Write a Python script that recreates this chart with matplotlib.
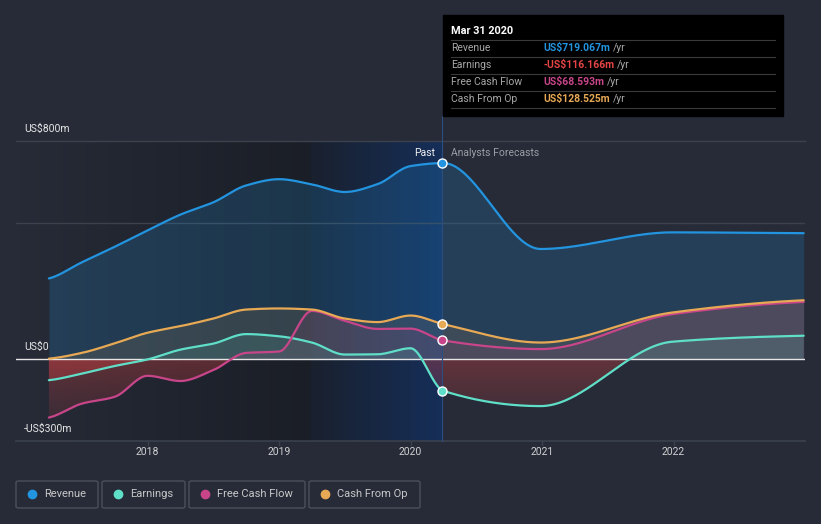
import numpy as np
import matplotlib.pyplot as plt
from matplotlib.patches import Rectangle, FancyBboxPatch
from matplotlib.lines import Line2D

plt.rcParams['font.family'] = ['Roboto', 'DejaVu Sans']

# quarterly history (fractional years) and analyst forecasts (year ends)
past_x = [2017.25, 2017.5, 2017.75, 2018.0, 2018.25, 2018.5, 2018.75,
          2019.0, 2019.25, 2019.5, 2019.75, 2020.0, 2020.25]
fc_x = [2020.99, 2021.99, 2022.99]

revenue = [296, 355, 412, 472, 530, 575, 637, 660, 641, 613, 642, 708, 719.067]
revenue_fc = [404, 465, 462]
earnings = [-77, -53, -25, -1, 35, 57, 92, 84, 61, 17, 18, 40, -116.166]
earnings_fc = [-172, 64, 86]
fcf = [-214, -163, -138, -61, -80, -40, 23, 28, 177, 141, 111, 112, 68.593]
fcf_fc = [37, 165, 210]
cfo = [2, 23, 58, 97, 121, 149, 182, 186, 182, 149, 136, 160, 128.525]
cfo_fc = [61, 171, 216]

year_ticks = [2018, 2019, 2020, 2021, 2022]
now_x = 2020.24

BG = '#262b37'
C_REV = '#2394df'
C_EARN = '#5fdfc8'
C_FCF = '#c8458a'
C_CFO = '#e8a955'
C_NEG = '#e64545'


def pchip(x, y, n=600):
    # monotone cubic curve through the read points (drawing only)
    x = np.asarray(x, float)
    y = np.asarray(y, float)
    h = np.diff(x)
    d = np.diff(y) / h
    m = np.zeros_like(y)
    for i in range(1, len(y) - 1):
        if d[i - 1] * d[i] > 0:
            w1 = 2 * h[i] + h[i - 1]
            w2 = h[i] + 2 * h[i - 1]
            m[i] = (w1 + w2) / (w1 / d[i - 1] + w2 / d[i])
    m[0] = d[0] * 0.5
    m[-1] = d[-1] * 0.5
    xs = np.linspace(x[0], x[-1], n)
    idx = np.clip(np.searchsorted(x, xs) - 1, 0, len(x) - 2)
    t = (xs - x[idx]) / h[idx]
    h00 = 2 * t**3 - 3 * t**2 + 1
    h10 = t**3 - 2 * t**2 + t
    h01 = -2 * t**3 + 3 * t**2
    h11 = t**3 - t**2
    ys = h00 * y[idx] + h10 * h[idx] * m[idx] + h01 * y[idx + 1] + h11 * h[idx] * m[idx + 1]
    return xs, ys


W, H = 821, 524
fig = plt.figure(figsize=(W / 100, H / 100), dpi=100)
fig.patch.set_facecolor(BG)


def fx(px):
    return px / W


def fy(py):
    return 1 - py / H


ax = fig.add_axes([fx(16), fy(441), (805 - 16) / W, (441 - 141) / H])
ax.set_facecolor(BG)
for s in ax.spines.values():
    s.set_visible(False)
ax.set_xticks([])
ax.set_yticks([])

# darker past area and highlighted last year
grad = np.zeros((2, 256, 4))
grad[..., 3] = np.linspace(0.0, 0.3, 256)
ax.imshow(grad, extent=[2017.0, now_x - 1, -300, 800], aspect='auto', zorder=0)
dark = np.zeros((2, 2, 4))
dark[..., 3] = 0.3
ax.imshow(dark, extent=[now_x - 1, now_x, -300, 800], aspect='auto', zorder=0)
blue = np.zeros((2, 256, 4))
blue[..., 0] = 0.07
blue[..., 1] = 0.25
blue[..., 2] = 0.55
blue[..., 3] = np.linspace(0.08, 0.5, 256)
ax.imshow(blue, extent=[now_x - 1, now_x, -300, 800], aspect='auto', zorder=0)
ax.set_xlim(2017.0, 2023.0)
ax.set_ylim(-300, 800)

ax.axhline(800, color='#3b414d', lw=1, zorder=1, clip_on=False)
ax.axhline(500, color='#3b414d', lw=1, zorder=1)
ax.axhline(-300, color='#3b414d', lw=1.2, zorder=1, clip_on=False)

series = [
    (revenue, revenue_fc, C_REV, 0.2),
    (cfo, cfo_fc, C_CFO, 0.12),
    (fcf, fcf_fc, C_FCF, 0.12),
    (earnings, earnings_fc, C_EARN, 0.12),
]
red = np.zeros((256, 2, 4))
red[..., 0] = 0.9
red[..., 1] = 0.27
red[..., 2] = 0.27
red[..., 3] = np.linspace(0.32, 0.04, 256)[:, None]
for past, fc, col, a in series:
    xs, ys = pchip(past_x + fc_x, past + fc)
    ax.fill_between(xs, ys, 0, where=ys >= 0, color=col, alpha=a, lw=0,
                    interpolate=True, zorder=2)
    neg = np.minimum(ys, 0)
    if neg.min() < 0:
        poly = ax.fill_between(xs, neg, 0, color='none', lw=0)
        im = ax.imshow(red, extent=[2017.0, 2023.0, -300, 0], aspect='auto',
                       zorder=2)
        im.set_clip_path(poly.get_paths()[0], transform=ax.transData)

ax.set_xlim(2017.0, 2023.0)
ax.set_ylim(-300, 800)
ax.axhline(0, color='#e6e6e6', lw=1, zorder=3)

for past, fc, col, a in series[::-1]:
    xs, ys = pchip(past_x + fc_x, past + fc)
    ax.plot(xs, ys, color=col, lw=1.6, zorder=4, solid_capstyle='round')

ax.axvline(now_x, ymin=0, ymax=1.083, color='#2d4f80', lw=0.8, zorder=3,
           clip_on=False)
for past, fc, col, a in series:
    ax.plot([now_x], [past[-1]], 'o', ms=6.5, color=col, mec='white', mew=1,
            zorder=5)

for yr in year_ticks:
    ax.plot([yr, yr], [-300, -313], color='#3b414d', lw=1, clip_on=False)
    ax.text(yr, -340, str(yr), ha='center', va='center', color='#d0d0d0',
            fontsize=7.5)

fig.text(fx(24), fy(129), 'US$800m', color='#e6e6e6', fontsize=7.5, va='center')
fig.text(fx(24), fy(347), 'US$0', color='#e6e6e6', fontsize=7.5, va='center')
fig.text(fx(24), fy(429), '-US$300m', color='#e6e6e6', fontsize=7.5, va='center')
fig.text(fx(435), fy(153), 'Past', color='#f0f0f0', fontsize=7.5, ha='right', va='center')
fig.text(fx(451), fy(153), 'Analysts Forecasts', color='#9a9ea6', fontsize=7.5,
         va='center')

# tooltip
fig.patches.append(Rectangle((fx(443), fy(116)), (783 - 443) / W, (116 - 15) / H,
                             transform=fig.transFigure, color='black', zorder=10))
fig.text(fx(451), fy(31), 'Mar 31 2020', color='white', fontsize=7.8,
         fontweight='bold', va='center', zorder=11)
rows = [('Revenue', 'US$719.067m', C_REV),
        ('Earnings', '-US$116.166m', C_NEG),
        ('Free Cash Flow', 'US$68.593m', C_FCF),
        ('Cash From Op', 'US$128.525m', C_CFO)]
fig.canvas.draw()
r = fig.canvas.get_renderer()
for i, (lab, val, col) in enumerate(rows):
    yy = 48 + i * 17
    fig.add_artist(Line2D([fx(451), fx(775)], [fy(yy - 8), fy(yy - 8)],
                          color='#3a3a3a', lw=0.8, zorder=11))
    fig.text(fx(451), fy(yy), lab, color='#a8a8a8', fontsize=7.5, va='center', zorder=11)
    t = fig.text(fx(543), fy(yy), val, color=col, fontsize=7.5, fontweight='bold',
                 va='center', zorder=11)
    bb = t.get_window_extent(r)
    fig.text(bb.x1 / W + fx(3), fy(yy), '/yr', color='#a8a8a8', fontsize=7.5,
             va='center', zorder=11)
fig.add_artist(Line2D([fx(451), fx(775)], [fy(108), fy(108)], color='#3a3a3a',
                      lw=0.8, zorder=11))

# legend
legend = [('Revenue', C_REV, 16, 98), ('Earnings', C_EARN, 102, 185),
          ('Free Cash Flow', C_FCF, 189, 305), ('Cash From Op', C_CFO, 309, 420)]
for lab, col, x0, x1 in legend:
    fig.patches.append(FancyBboxPatch((fx(x0), fy(508)), (x1 - x0) / W, 27 / H,
                                      boxstyle='round,pad=0,rounding_size=0.003',
                                      transform=fig.transFigure, fc='none',
                                      ec='#4a505c', lw=1))
    fig.add_artist(Line2D([fx(x0 + 16)], [fy(494)], marker='o', ms=6, color=col,
                          lw=0))
    fig.text(fx(x0 + 28), fy(494), lab, color='#c8c8c8', fontsize=8, va='center')

fig.savefig('out.png', dpi=100, facecolor=BG)
